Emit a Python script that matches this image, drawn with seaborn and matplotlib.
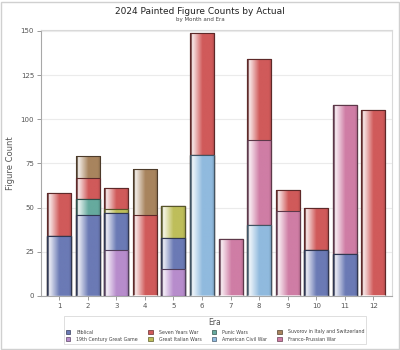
import numpy as np
import pandas as pd
import matplotlib
matplotlib.use("Agg")
import matplotlib.pyplot as plt
from matplotlib.colors import to_rgb
from matplotlib.patches import Patch, Rectangle
import seaborn as sns

# data
months = [1, 2, 3, 4, 5, 6, 7, 8, 9, 10, 11, 12]

# stack order, bottom to top
eras = ["19th Century Great Game", "Biblical", "American Civil War", "Punic Wars",
        "Great Italian Wars", "Franco-Prussian War", "Seven Years War",
        "Suvorov in Italy and Switzerland"]

great_game = [0, 0, 26, 0, 15, 0, 0, 0, 0, 0, 0, 0]
biblical = [34, 46, 21, 0, 18, 0, 0, 0, 0, 26, 24, 0]
american_civil = [0, 0, 0, 0, 0, 80, 0, 40, 0, 0, 0, 0]
punic = [0, 9, 0, 0, 0, 0, 0, 0, 0, 0, 0, 0]
great_italian = [0, 0, 2, 0, 18, 0, 0, 0, 0, 0, 0, 0]
franco_prussian = [0, 0, 0, 0, 0, 0, 32, 48, 48, 0, 84, 0]
seven_years = [24, 12, 12, 46, 0, 69, 0, 46, 12, 24, 0, 105]
suvorov = [0, 12, 0, 26, 0, 0, 0, 0, 0, 0, 0, 0]

series = [great_game, biblical, american_civil, punic, great_italian,
          franco_prussian, seven_years, suvorov]

colors = {
    "Biblical": "#6B7AB5",
    "Seven Years War": "#D05A5A",
    "Punic Wars": "#66AA9E",
    "Suvorov in Italy and Switzerland": "#A8845E",
    "19th Century Great Game": "#B78CCC",
    "Great Italian Wars": "#BEBE5A",
    "American Civil War": "#90BADE",
    "Franco-Prussian War": "#CF7DA5",
}

legend_order = ["Biblical", "19th Century Great Game", "Seven Years War",
                "Great Italian Wars", "Punic Wars", "American Civil War",
                "Suvorov in Italy and Switzerland", "Franco-Prussian War"]

df = pd.DataFrame(dict(zip(eras, series)), index=months)
cum = df.cumsum(axis=1)

sns.set_style("white")
plt.rcParams["font.family"] = ["DejaVu Sans"]

fig = plt.figure(figsize=(4, 3.5), dpi=100)
ax = fig.add_axes([41 / 400, 1 - 296 / 350, 351 / 400, 266 / 350])


def gradient(color):
    c = np.array(to_rgb(color))
    white = np.ones(3)
    stops = [(0.0, c * 0.45), (0.05, c * 0.45), (0.08, c * 0.12 + white * 0.88),
             (0.2, c * 0.35 + white * 0.65), (0.5, c), (0.88, c), (1.0, c * 0.8)]
    xs = np.linspace(0, 1, 80)
    img = np.zeros((1, 80, 3))
    for k in range(3):
        img[0, :, k] = np.interp(xs, [s[0] for s in stops], [s[1][k] for s in stops])
    return np.clip(img, 0, 1)


# draw cumulative layers from top era down, so each lower era covers the one above
for k, era in enumerate(reversed(eras)):
    n_before = len(ax.patches)
    layer = pd.DataFrame({"month": months, "count": cum[era].values})
    sns.barplot(data=layer, x="month", y="count", order=months, color=colors[era],
                width=0.84, saturation=1, ax=ax, zorder=2 + 2 * k)
    img = gradient(colors[era])
    edge = np.array(to_rgb(colors[era])) * 0.45
    for p in ax.patches[n_before:]:
        h = p.get_height()
        if h <= 0:
            continue
        x0, w = p.get_x(), p.get_width()
        p.set_facecolor("none")
        p.set_edgecolor(edge)
        p.set_linewidth(0.8)
        p.set_zorder(2 + 2 * k + 1)
        clip = Rectangle((x0, 0), w, h, transform=ax.transData)
        im = ax.imshow(img, extent=[x0, x0 + w, 0, h], aspect="auto",
                       interpolation="bilinear", zorder=2 + 2 * k + 0.5)
        im.set_clip_path(clip)

ax.set_xlim(-0.63, 11.65)
ax.set_ylim(0, 150.5)
ax.set_yticks([0, 25, 50, 75, 100, 125, 150])
ax.set_xticklabels([str(m) for m in months])
ax.yaxis.grid(True, color="#ebebeb", linewidth=0.8, zorder=0)
ax.set_axisbelow(True)
for s in ax.spines.values():
    s.set_color("#d9d9d9")
    s.set_linewidth(0.8)
ax.spines["left"].set_color("#a8a8a8")
ax.spines["bottom"].set_color("#a8a8a8")
ax.tick_params(axis="both", length=3, width=0.6, color="#8a8a8a",
               labelsize=5, labelcolor="#555555", pad=2, direction="out",
               bottom=True, left=True)
ax.set_xlabel("")
ax.set_ylabel("Figure Count", fontsize=6, color="#555555", labelpad=4)

fig.text(0.5, 1 - 12 / 350, "2024 Painted Figure Counts by Actual", ha="center",
         va="center", fontsize=6.5, color="#222222")
fig.text(0.5, 1 - 20 / 350, "by Month and Era", ha="center", va="center",
         fontsize=4, color="#444444")

handles = [Patch(facecolor=colors[e], edgecolor=np.array(to_rgb(colors[e])) * 0.5,
                 linewidth=0.5, label=e) for e in legend_order]
leg = fig.legend(handles=handles, ncol=4, loc="center", bbox_to_anchor=(215 / 400, 1 - 330 / 350),
                 fontsize=3.4, title="Era", title_fontsize=5.5, frameon=True, fancybox=False,
                 edgecolor="#d0d0d0", handlelength=1.0, handleheight=1.0, handletextpad=1.2,
                 columnspacing=2.2, labelspacing=0.45, borderpad=0.4)
leg.get_frame().set_linewidth(0.6)
leg.get_title().set_color("#555555")
for t in leg.get_texts():
    t.set_color("#444444")

fig.patches.append(Rectangle((1 / 400, 1 / 350), 398 / 400, 347 / 350, transform=fig.transFigure,
                             fill=False, edgecolor="#d0d0d0", linewidth=1.0))

fig.savefig("out.png", dpi=100)
